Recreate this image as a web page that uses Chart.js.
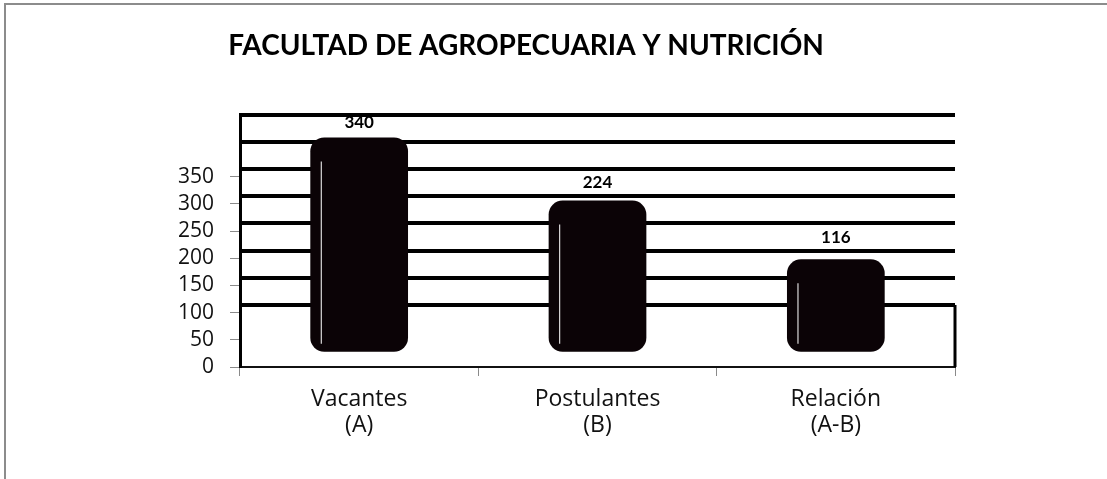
<!DOCTYPE html>
<html>
<head>
<meta charset="utf-8">
<script src="https://cdn.jsdelivr.net/npm/chart.js@4.4.1/dist/chart.umd.min.js"></script>
<style>
  html, body { margin: 0; padding: 0; background: #fff; overflow: hidden; }
  #frame { position: absolute; left: 4px; top: 3px; width: 1200px; height: 600px; border: 2px solid #8c8c8c; box-sizing: border-box; }
  #chart { position: absolute; left: 0; top: 0; }
</style>
</head>
<body>
<div id="frame"></div>
<canvas id="chart" width="1107" height="479"></canvas>
<script>
// data
const categories = [['Vacantes', '(A)'], ['Postulantes', '(B)'], ['Relación', '(A-B)']];
const values = [340, 224, 116];
const yTickLabels = [0, 50, 100, 150, 200, 250, 300, 350];
const titleText = 'FACULTAD DE AGROPECUARIA Y NUTRICIÓN';

document.addEventListener('DOMContentLoaded', () => {
    Chart.defaults.font.family = '"Open Sans", sans-serif';
    Chart.defaults.color = '#000';

    // value labels, a thin highlight on each cylinder and the little box at the lower right
    const extras = {
        id: 'extras',
        afterDatasetsDraw(chart) {
            const ctx = chart.ctx;
            const area = chart.chartArea;
            const meta = chart.getDatasetMeta(0);
            ctx.save();
            meta.data.forEach((bar, i) => {
                const left = bar.x - bar.width / 2;
                ctx.strokeStyle = 'rgba(255,255,255,0.85)';
                ctx.lineWidth = 1.2;
                ctx.beginPath();
                ctx.moveTo(left + 11, bar.y + 24);
                ctx.lineTo(left + 11, bar.base - 8);
                ctx.stroke();

                // shorter cylinders sit a bit further below their label (3d look)
                const gap = 27 - 0.057 * (bar.base - bar.y);
                ctx.fillStyle = '#000';
                ctx.font = 'bold 17px Lato';
                ctx.textAlign = 'center';
                ctx.textBaseline = 'middle';
                ctx.fillText(values[i], bar.x, bar.y - gap);
            });
            const yTop = chart.scales.yg.getPixelForValue(100);
            ctx.strokeStyle = '#000';
            ctx.lineWidth = 3;
            ctx.beginPath();
            ctx.moveTo(area.right, yTop);
            ctx.lineTo(area.right, area.bottom);
            ctx.stroke();
            ctx.restore();
        }
    };

    new Chart(document.getElementById('chart'), {
        type: 'bar',
        data: {
            labels: categories,
            datasets: [{
                data: values,
                yAxisID: 'yb',
                base: -54,
                backgroundColor: '#0b0306',
                borderRadius: 14,
                borderSkipped: false,
                barPercentage: 0.41,
                categoryPercentage: 1
            }]
        },
        options: {
            responsive: false,
            animation: false,
            layout: { padding: { left: 97, right: 152, top: 0, bottom: 32 } },
            plugins: {
                legend: { display: false },
                tooltip: { enabled: false },
                title: {
                    display: true,
                    text: titleText,
                    font: { family: 'Lato', size: 28, weight: 'bold', lineHeight: 1.2 },
                    color: '#000',
                    padding: { top: 29, bottom: 52 }
                }
            },
            scales: {
                x: {
                    grid: { offset: true, drawOnChartArea: false, tickLength: 9, tickColor: '#8a8a8a' },
                    border: { display: true, color: '#111', width: 2 },
                    ticks: { font: { size: 23, lineHeight: 1.15 }, padding: 10, color: '#111' },
                    afterFit: s => { s.height = 80; }
                },
                y: {
                    min: 0,
                    max: 464,
                    ticks: { stepSize: 50, padding: 16, font: { size: 21 }, color: '#111' },
                    afterBuildTicks: s => { s.ticks = s.ticks.filter(t => yTickLabels.includes(t.value)); },
                    grid: { drawOnChartArea: false, tickLength: 10, tickColor: '#8a8a8a' },
                    border: { display: true, color: '#000', width: 3 },
                    afterFit: s => { s.width = 143; }
                },
                yg: {
                    position: 'right',
                    min: -14,
                    max: 450,
                    ticks: { display: false, stepSize: 50 },
                    afterBuildTicks: s => { s.ticks = s.ticks.filter(t => t.value >= 100 && t.value % 50 === 0); },
                    grid: { drawTicks: false, color: '#000', lineWidth: 4 },
                    border: { display: false },
                    afterFit: s => { s.width = 0; }
                },
                yb: {
                    display: false,
                    min: -82,
                    max: 382
                }
            }
        },
        plugins: [extras]
    });
});
</script>
</body>
</html>
